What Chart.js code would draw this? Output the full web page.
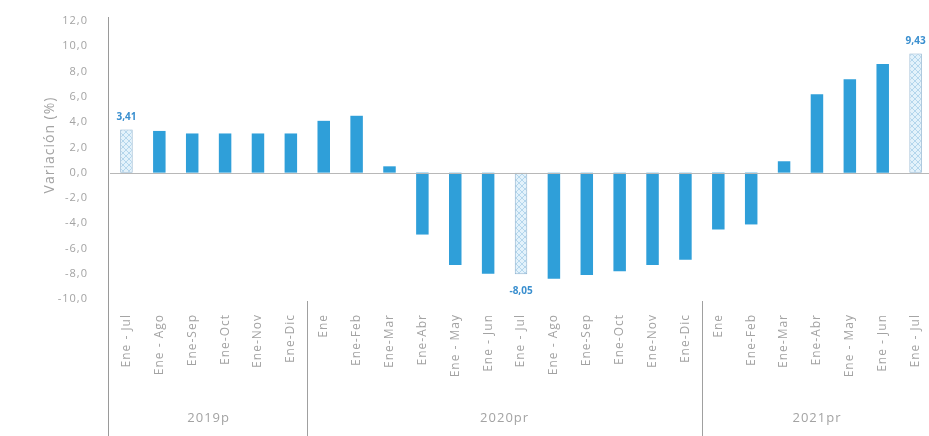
<!DOCTYPE html>
<html>
<head>
<meta charset="utf-8">
<script src="https://cdn.jsdelivr.net/npm/chart.js@4.4.1/dist/chart.umd.min.js"></script>
<style>
  html, body { margin: 0; padding: 0; background: #ffffff; }
  #clip { width: 929px; height: 436px; overflow: hidden; position: relative; }
  #wrap { width: 937px; height: 436px; position: relative; }
</style>
</head>
<body>
<div id="clip"><div id="wrap"><canvas id="c"></canvas></div></div>
<script>
// ---- Data ----
const categories = [
  "Ene - Jul", "Ene - Ago", "Ene-Sep", "Ene-Oct", "Ene-Nov", "Ene-Dic",
  "Ene", "Ene-Feb", "Ene-Mar", "Ene-Abr", "Ene - May", "Ene - Jun", "Ene - Jul", "Ene - Ago", "Ene-Sep", "Ene-Oct", "Ene-Nov", "Ene-Dic",
  "Ene", "Ene-Feb", "Ene-Mar", "Ene-Abr", "Ene - May", "Ene - Jun", "Ene - Jul"
];
const values = [
  3.41, 3.3, 3.1, 3.1, 3.1, 3.1,
  4.1, 4.5, 0.5, -4.9, -7.3, -8.0, -8.05, -8.4, -8.1, -7.8, -7.3, -6.9,
  -4.5, -4.1, 0.9, 6.2, 7.4, 8.6, 9.43
];
const groupNames = ["2019p", "2020pr", "2021pr"];
const groupSizes = [6, 12, 7];
const highlighted = [0, 12, 24];
const yTicks = [12, 10, 8, 6, 4, 2, 0, -2, -4, -6, -8, -10];
const yTitle = "Variación (%)";

// ---- Styles ----
const solidBlue = "#2f9fd9";
const textGray = "#a3a3a3";
function makePattern() {
  const p = document.createElement("canvas");
  p.width = 6; p.height = 6;
  const g = p.getContext("2d");
  g.fillStyle = "#e3f2fb";
  g.fillRect(0, 0, 6, 6);
  g.strokeStyle = "#b4d6ec";
  g.lineWidth = 1;
  g.beginPath();
  g.moveTo(0, 0); g.lineTo(6, 6);
  g.moveTo(6, 0); g.lineTo(0, 6);
  g.stroke();
  return document.getElementById("c").getContext("2d").createPattern(p, "repeat");
}
const pattern = makePattern();
const bg = values.map((v, i) => highlighted.includes(i) ? pattern : solidBlue);
const border = values.map((v, i) => highlighted.includes(i) ? "#8fb3cf" : solidBlue);
const bw = values.map((v, i) => highlighted.includes(i) ? 1 : 0);

const fmt = (v, d) => v.toFixed(d).replace(".", ",");

const spacingPlugin = {
  id: "spacing",
  beforeDraw(chart) { chart.ctx.letterSpacing = "1px"; }
};

const groupPlugin = {
  id: "groups",
  afterDraw(chart) {
    const ctx = chart.ctx;
    const x = chart.scales.x;
    const area = chart.chartArea;
    ctx.save();
    // zero line
    const y0 = Math.round(chart.scales.y.getPixelForValue(0));
    ctx.strokeStyle = "#b8b8b8";
    ctx.lineWidth = 1;
    ctx.beginPath();
    ctx.moveTo(area.left, y0 + 0.5);
    ctx.lineTo(area.right, y0 + 0.5);
    ctx.stroke();
    // y-axis line extended
    ctx.strokeStyle = "#9a9a9a";
    ctx.beginPath();
    ctx.moveTo(Math.round(area.left) - 1.5, area.top - 4);
    ctx.lineTo(Math.round(area.left) - 1.5, chart.height);
    ctx.stroke();
    // axis title
    ctx.save();
    ctx.translate(50, 145);
    ctx.rotate(-Math.PI / 2);
    ctx.fillStyle = textGray;
    ctx.font = "14px 'Open Sans', sans-serif";
    ctx.textAlign = "center";
    ctx.textBaseline = "middle";
    ctx.fillText(yTitle, 0, 0);
    ctx.restore();
    // separators and group labels
    let start = 0;
    const step = x.getPixelForValue(1) - x.getPixelForValue(0);
    ctx.fillStyle = textGray;
    ctx.font = "13px 'Open Sans', sans-serif";
    ctx.textAlign = "center";
    ctx.textBaseline = "middle";
    groupSizes.forEach((n, gi) => {
      const left = x.getPixelForValue(start) - step / 2;
      const right = x.getPixelForValue(start + n - 1) + step / 2;
      if (gi > 0) {
        ctx.strokeStyle = "#a0a0a0";
        ctx.beginPath();
        ctx.moveTo(Math.round(left) + 0.5, area.bottom + 2);
        ctx.lineTo(Math.round(left) + 0.5, chart.height);
        ctx.stroke();
      }
      ctx.fillText(groupNames[gi], (left + right) / 2, 418);
      start += n;
    });
    // data labels for highlighted bars
    const meta = chart.getDatasetMeta(0);
    ctx.fillStyle = "#3a8fcf";
    ctx.letterSpacing = "0px";
    ctx.font = "bold 10px 'Open Sans', sans-serif";
    highlighted.forEach(i => {
      const el = meta.data[i];
      const v = values[i];
      const y = v >= 0 ? el.y - 12 : el.y + 17;
      ctx.fillText(fmt(v, 2), el.x, y);
    });
    ctx.restore();
  }
};

new Chart(document.getElementById("c"), {
  type: "bar",
  data: {
    labels: categories,
    datasets: [{
      data: values,
      backgroundColor: bg,
      borderColor: border,
      borderWidth: bw,
      borderSkipped: false,
      barPercentage: 0.38,
      categoryPercentage: 1.0
    }]
  },
  options: {
    responsive: true,
    maintainAspectRatio: false,
    animation: false,
    layout: { padding: { top: 21, right: 0, bottom: 0, left: 0 } },
    plugins: { legend: { display: false }, tooltip: { enabled: false } },
    scales: {
      x: {
        grid: { display: false },
        border: { display: false },
        ticks: {
          color: textGray,
          font: { family: "'Open Sans', sans-serif", size: 12 },
          maxRotation: 90, minRotation: 90,
          autoSkip: false,
          padding: 7
        },
        afterFit(s) { s.height = 137; }
      },
      y: {
        min: -10, max: 12,
        grid: { display: false },
        border: { display: false },
        afterBuildTicks(s) { s.ticks = yTicks.map(v => ({ value: v })); },
        ticks: {
          color: textGray,
          font: { family: "'Open Sans', sans-serif", size: 11 },
          padding: 14,
          callback: v => fmt(v, 1)
        },
        afterFit(s) { s.width = 110; }
      }
    }
  },
  plugins: [spacingPlugin, groupPlugin]
});
</script>
</body>
</html>
